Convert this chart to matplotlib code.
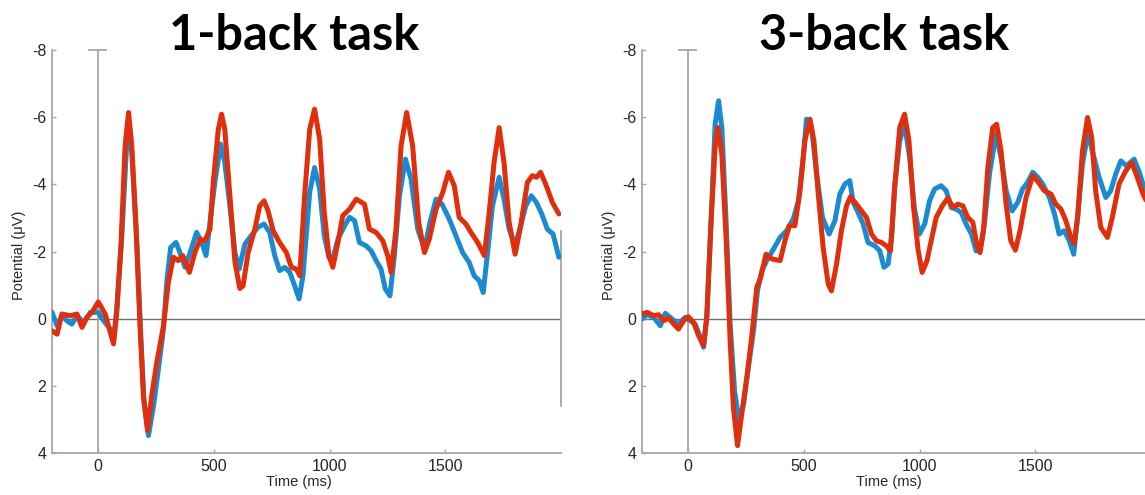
import numpy as np
import matplotlib.pyplot as plt

plt.rcParams['font.family'] = ['Liberation Sans', 'DejaVu Sans']
plt.rcParams['axes.unicode_minus'] = False

# 1-back task (time in ms, potential in uV)
t1_blue = [-200, -178, -157, -135, -114, -92, -63, -34, 0, 23, 52, 66, 80, 102, 121, 131, 145, 167, 184, 198,
           217, 239, 260, 282, 296, 313, 336, 353, 375, 397, 425, 447, 466, 483, 504, 529, 547, 569, 591, 609,
           634, 661, 690, 717, 741, 763, 784, 806, 828, 849, 868, 885, 892, 914, 935, 957, 977, 997, 1014, 1036,
           1065, 1086, 1108, 1129, 1158, 1180, 1201, 1222, 1241, 1261, 1280, 1302, 1328, 1352, 1381, 1410, 1434,
           1460, 1486, 1517, 1546, 1575, 1603, 1625, 1647, 1664, 1683, 1704, 1733, 1754, 1776, 1802, 1826, 1848,
           1872, 1894, 1917, 1941, 1966, 1991]
v1_blue = [-0.19, 0.21, -0.09, 0.06, 0.16, -0.09, 0.11, -0.19, -0.19, 0.06, 0.31, 0.61, -0.29, -2.47, -4.95, -5.74,
           -4.95, -2.17, 0.51, 2.49, 3.48, 2.59, 1.50, 0.31, -1.08, -2.12, -2.27, -1.97, -1.53, -1.97, -2.57, -2.27,
           -1.88, -2.87, -4.06, -5.20, -4.65, -3.36, -1.97, -1.48, -2.22, -2.47, -2.72, -2.82, -2.57, -1.88, -1.43,
           -1.53, -1.38, -0.98, -0.59, -1.28, -1.88, -3.76, -4.50, -3.86, -2.47, -1.83, -1.78, -2.37, -2.77, -3.02,
           -2.92, -2.27, -2.17, -2.02, -1.73, -1.48, -0.88, -0.68, -1.88, -3.66, -4.75, -4.16, -2.67, -2.07, -2.87,
           -3.56, -3.41, -2.97, -2.47, -1.97, -1.68, -1.28, -1.13, -0.78, -1.97, -3.36, -4.21, -3.56, -2.67, -2.17,
           -2.77, -3.36, -3.66, -3.46, -3.12, -2.67, -2.52, -1.83]
t1_red = [-200, -178, -157, -121, -92, -70, -49, -27, 0, 30, 52, 66, 80, 98, 116, 131, 145, 164, 181, 195, 213,
          231, 253, 282, 303, 325, 346, 365, 394, 418, 440, 461, 483, 497, 519, 533, 547, 569, 591, 612, 626, 648,
          677, 698, 717, 734, 756, 784, 813, 835, 856, 871, 892, 914, 935, 957, 977, 997, 1014, 1036, 1057, 1086,
          1115, 1151, 1172, 1201, 1230, 1251, 1266, 1287, 1309, 1333, 1359, 1385, 1410, 1431, 1460, 1489, 1514,
          1539, 1560, 1589, 1611, 1640, 1669, 1690, 1711, 1733, 1754, 1776, 1802, 1826, 1855, 1876, 1894, 1912,
          1934, 1963, 1991]
v1_red = [0.36, 0.46, -0.14, -0.09, -0.14, 0.26, -0.04, -0.19, -0.50, -0.14, 0.41, 0.75, -0.19, -2.17, -5.15, -6.14,
          -5.15, -2.67, 0.31, 2.29, 3.33, 2.29, 1.30, 0.21, -1.08, -1.83, -1.73, -1.88, -1.38, -1.97, -2.37, -2.32,
          -2.67, -4.06, -5.64, -6.09, -5.64, -3.66, -1.68, -0.90, -0.98, -1.97, -2.67, -3.36, -3.51, -3.21, -2.62,
          -2.27, -1.97, -1.53, -1.48, -1.28, -3.66, -5.64, -6.24, -5.35, -3.16, -1.88, -1.53, -2.27, -3.07, -3.26,
          -3.56, -3.41, -2.67, -2.57, -2.32, -1.88, -1.38, -2.67, -5.15, -6.14, -5.15, -2.87, -1.97, -2.37, -3.26,
          -3.76, -4.36, -3.96, -3.02, -2.82, -2.57, -2.27, -1.88, -3.16, -4.65, -5.69, -4.65, -2.87, -1.92, -2.77,
          -4.06, -4.26, -4.21, -4.36, -4.01, -3.46, -3.12]

# 3-back task
t3_blue = [-200, -178, -149, -121, -99, -70, -42, -13, 9, 30, 52, 66, 80, 98, 116, 131, 145, 164, 181, 200, 220,
           239, 260, 282, 299, 318, 339, 368, 397, 425, 454, 476, 497, 511, 533, 555, 580, 609, 634, 655, 677, 698,
           713, 734, 756, 777, 806, 828, 846, 864, 880, 892, 914, 935, 957, 977, 999, 1022, 1043, 1065, 1093, 1115,
           1137, 1158, 1180, 1201, 1224, 1244, 1261, 1280, 1302, 1330, 1352, 1374, 1400, 1424, 1445, 1467, 1489,
           1511, 1532, 1561, 1583, 1603, 1625, 1647, 1666, 1683, 1704, 1728, 1750, 1776, 1805, 1826, 1848, 1870,
           1894, 1927, 1948, 1970, 1995]
v3_blue = [0.01, -0.12, -0.04, 0.21, -0.16, 0.01, 0.16, -0.04, 0.06, 0.16, 0.56, 0.85, -0.04, -2.82, -5.79, -6.49,
           -5.69, -2.82, 0.16, 2.14, 3.09, 2.54, 1.45, 0.36, -0.83, -1.43, -1.73, -2.07, -2.42, -2.62, -2.97, -3.51,
           -4.80, -5.94, -5.69, -4.31, -3.02, -2.52, -2.92, -3.71, -4.01, -4.11, -3.46, -3.16, -2.82, -2.27, -2.17,
           -2.02, -1.53, -1.63, -2.50, -3.91, -5.30, -5.79, -4.80, -3.31, -2.52, -2.82, -3.51, -3.86, -3.96, -3.81,
           -3.31, -3.26, -3.16, -2.82, -2.52, -2.02, -2.02, -2.82, -4.31, -5.50, -4.80, -3.81, -3.21, -3.46, -3.86,
           -4.06, -4.36, -4.21, -4.01, -3.61, -3.12, -2.52, -2.62, -2.32, -1.92, -3.02, -4.60, -5.55, -4.90, -4.21,
           -3.61, -3.81, -4.31, -4.70, -4.55, -4.75, -4.40, -3.91, -3.60]
t3_red = [-200, -178, -149, -128, -106, -85, -63, -42, -20, 0, 23, 45, 66, 80, 98, 116, 128, 145, 164, 181, 195,
          213, 231, 253, 274, 296, 313, 336, 361, 397, 418, 437, 461, 483, 504, 526, 543, 562, 583, 605, 619, 641,
          662, 684, 701, 727, 749, 770, 792, 813, 835, 856, 874, 892, 914, 935, 954, 974, 994, 1011, 1032, 1050,
          1072, 1098, 1122, 1144, 1165, 1187, 1208, 1230, 1247, 1261, 1276, 1295, 1316, 1333, 1352, 1374, 1394,
          1414, 1434, 1460, 1489, 1514, 1539, 1568, 1589, 1611, 1632, 1654, 1668, 1683, 1704, 1726, 1744, 1761,
          1783, 1812, 1833, 1862, 1891, 1917, 1941, 1966, 1995]
v3_red = [-0.14, -0.19, -0.09, -0.12, 0.06, -0.02, 0.16, 0.31, 0.06, -0.06, 0.11, 0.51, 0.80, -0.04, -2.82, -5.10,
          -5.69, -4.90, -2.32, 0.65, 2.64, 3.78, 2.84, 1.75, 0.56, -0.93, -1.23, -1.92, -1.78, -1.73, -2.32, -2.77,
          -2.77, -3.81, -5.30, -5.94, -5.30, -3.71, -2.12, -1.03, -0.83, -1.63, -2.62, -3.36, -3.63, -3.41, -3.21,
          -3.02, -2.52, -2.32, -2.27, -2.17, -2.02, -3.90, -5.69, -6.09, -5.30, -3.31, -2.02, -1.38, -1.73, -2.32,
          -3.02, -3.36, -3.59, -3.31, -3.41, -3.36, -3.02, -2.87, -2.22, -1.97, -2.62, -4.50, -5.69, -5.79, -5.00,
          -3.41, -2.32, -2.04, -2.62, -3.61, -4.26, -4.06, -3.81, -3.71, -3.41, -3.26, -2.92, -2.42, -2.24, -3.02,
          -5.00, -5.99, -5.40, -3.81, -2.72, -2.42, -3.02, -4.01, -4.40, -4.65, -4.21, -3.71, -3.30]

titles = ['1-back task', '3-back task']
xticks = [0, 500, 1000, 1500]
yticks = [-8, -6, -4, -2, 0, 2, 4]

blue = '#1b8ad0'
red = '#df2f0c'
axis_grey = '#a6a6a6'


def draw_panel(ax, tb, vb, tr, vr):
    ax.plot(tb, vb, color=blue, lw=3.6, solid_capstyle='round', solid_joinstyle='round', zorder=3)
    ax.plot(tr, vr, color=red, lw=3.6, solid_capstyle='round', solid_joinstyle='round', zorder=4)
    ax.set_xlim(-200, 2000)
    ax.set_ylim(4, -8)
    # zero lines
    ax.axhline(0, color='#6e6e6e', lw=1.0, zorder=1)
    ax.plot([0, 0], [-8, 4], color=axis_grey, lw=1.3, zorder=1)
    ax.plot([-42, 35], [-8, -8], color=axis_grey, lw=1.3, zorder=1, clip_on=False)
    for side in ['top', 'right']:
        ax.spines[side].set_visible(False)
    for side in ['left', 'bottom']:
        ax.spines[side].set_color(axis_grey)
        ax.spines[side].set_linewidth(1.3)
    ax.set_xticks(xticks)
    ax.set_yticks(yticks)
    ax.tick_params(direction='in', length=3, width=1, color=axis_grey,
                   labelsize=11.5, labelcolor='#262626', pad=4)
    ax.set_xlabel('Time (ms)', fontsize=10.5, color='#262626')
    ax.set_ylabel('Potential (\u03bcV)', fontsize=10.5, color='#262626')
    ax.xaxis.set_label_coords(0.485, -0.055)
    ax.yaxis.set_label_coords(-0.052, 0.49)


fig = plt.figure(figsize=(11.45, 4.95), dpi=100)
ax1 = fig.add_axes([0.0454, 0.0848, 0.4445, 0.8141])
ax2 = fig.add_axes([0.5607, 0.0848, 0.4445, 0.8141])

draw_panel(ax1, t1_blue, v1_blue, t1_red, v1_red)
draw_panel(ax2, t3_blue, v3_blue, t3_red, v3_red)

# odd short line on the right end of the first panel
ax1.plot([2000, 2000], [-2.6, 2.6], color=axis_grey, lw=1.3, clip_on=False)

fig.text(294 / 1145, 1 - 50 / 495, titles[0], ha='center', va='baseline',
         fontsize=35, fontweight='bold', family=['Lato', 'DejaVu Sans'])
fig.text(884 / 1145, 1 - 50 / 495, titles[1], ha='center', va='baseline',
         fontsize=35, fontweight='bold', family=['Lato', 'DejaVu Sans'])

fig.savefig('out.png', dpi=100)
